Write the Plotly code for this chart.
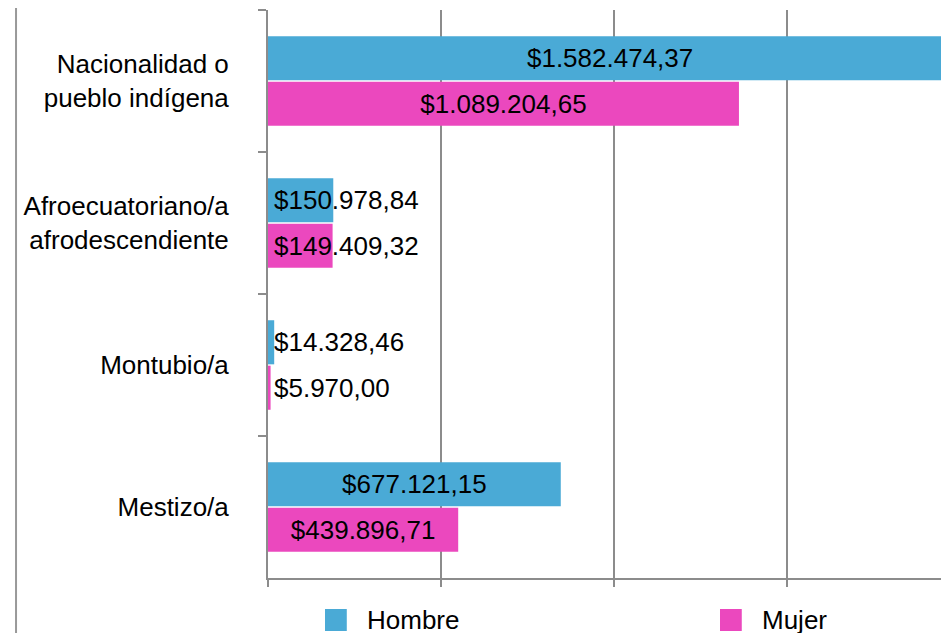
import plotly.graph_objects as go

# categories, top to bottom
categorias = [
    "Nacionalidad o<br>pueblo indígena",
    "Afroecuatoriano/a<br>afrodescendiente",
    "Montubio/a",
    "Mestizo/a",
]
series = ["Hombre", "Mujer"]
hombre = [1582474.37, 150978.84, 14328.46, 677121.15]
mujer = [1089204.65, 149409.32, 5970.00, 439896.71]

AZUL = "#4AAAD6"
ROSA = "#EB48BE"
GRIS = "#8C8C8C"
FUENTE = "Liberation Sans, Arial, sans-serif"

X_MAX = 1575000      # visible end of the axis (chart is cut off on the right)
UMBRAL = 300000      # bars shorter than this get their label outside, at the base


def pesos(v):
    s = f"{v:,.2f}"
    s = s.replace(",", "X").replace(".", ",").replace("X", ".")
    return "$" + s


fig = go.Figure()

for nombre, vals, color in zip(series, [hombre, mujer], [AZUL, ROSA]):
    fig.add_trace(
        go.Bar(
            y=categorias,
            x=vals,
            orientation="h",
            name=nombre,
            marker=dict(color=color, line=dict(width=0)),
            text=[pesos(v) for v in vals],
            textposition=["inside" if v >= UMBRAL else "none" for v in vals],
            insidetextanchor="middle",
            constraintext="none",
            textfont=dict(family=FUENTE, size=26, color="black"),
            showlegend=False,
        )
    )

# labels of the short bars, placed from the axis base
annotations = []
for vals, dy in [(hombre, 23), (mujer, -23)]:
    for cat, v in zip(categorias, vals):
        if v < UMBRAL:
            annotations.append(
                dict(
                    x=0,
                    y=cat,
                    xref="x",
                    yref="y",
                    xanchor="left",
                    yanchor="middle",
                    xshift=4,
                    yshift=dy,
                    text=pesos(v),
                    showarrow=False,
                    font=dict(family=FUENTE, size=26, color="black"),
                )
            )

# legend drawn by hand below the plot (the original is cut off at the bottom)
shapes = [
    dict(
        type="line",
        xref="paper",
        yref="paper",
        x0=-0.370,
        x1=-0.370,
        y0=-0.2,
        y1=1.03,
        line=dict(color="#999999", width=2),
    )
]
for nombre, color, x0 in zip(series, [AZUL, ROSA], [0.0837, 0.6637]):
    shapes.append(
        dict(
            type="rect",
            xref="paper",
            yref="paper",
            x0=x0,
            x1=x0 + 0.032,
            y0=-0.0933,
            y1=-0.0546,
            fillcolor=color,
            line=dict(width=0),
        )
    )
    annotations.append(
        dict(
            x=x0 + 0.0587,
            y=-0.074,
            xref="paper",
            yref="paper",
            xanchor="left",
            yanchor="middle",
            text=nombre,
            showarrow=False,
            font=dict(family=FUENTE, size=26, color="black"),
        )
    )

# the page body has an 8px margin, so the figure is shifted by 8px
fig.update_layout(
    width=941,
    height=625,
    margin=dict(l=260, r=0, t=2, b=55),
    paper_bgcolor="white",
    plot_bgcolor="white",
    barmode="group",
    bargap=0.36,
    bargroupgap=0.03,
    font=dict(family=FUENTE, size=26, color="black"),
    showlegend=False,
    annotations=annotations,
    shapes=shapes,
)

fig.update_xaxes(
    range=[0, X_MAX],
    dtick=400000,
    showgrid=True,
    gridcolor=GRIS,
    gridwidth=2,
    zeroline=False,
    showline=True,
    linecolor=GRIS,
    linewidth=2,
    ticks="outside",
    ticklen=7,
    tickwidth=2,
    tickcolor=GRIS,
    showticklabels=False,
    automargin=False,
)

fig.update_yaxes(
    autorange="reversed",
    showgrid=False,
    showline=True,
    linecolor=GRIS,
    linewidth=2,
    ticks="outside",
    tickson="boundaries",
    ticklen=8,
    tickwidth=2,
    tickcolor=GRIS,
    ticklabelstandoff=32,
    tickfont=dict(family=FUENTE, size=26, color="black"),
    automargin=False,
)

fig.write_html("out.html")
